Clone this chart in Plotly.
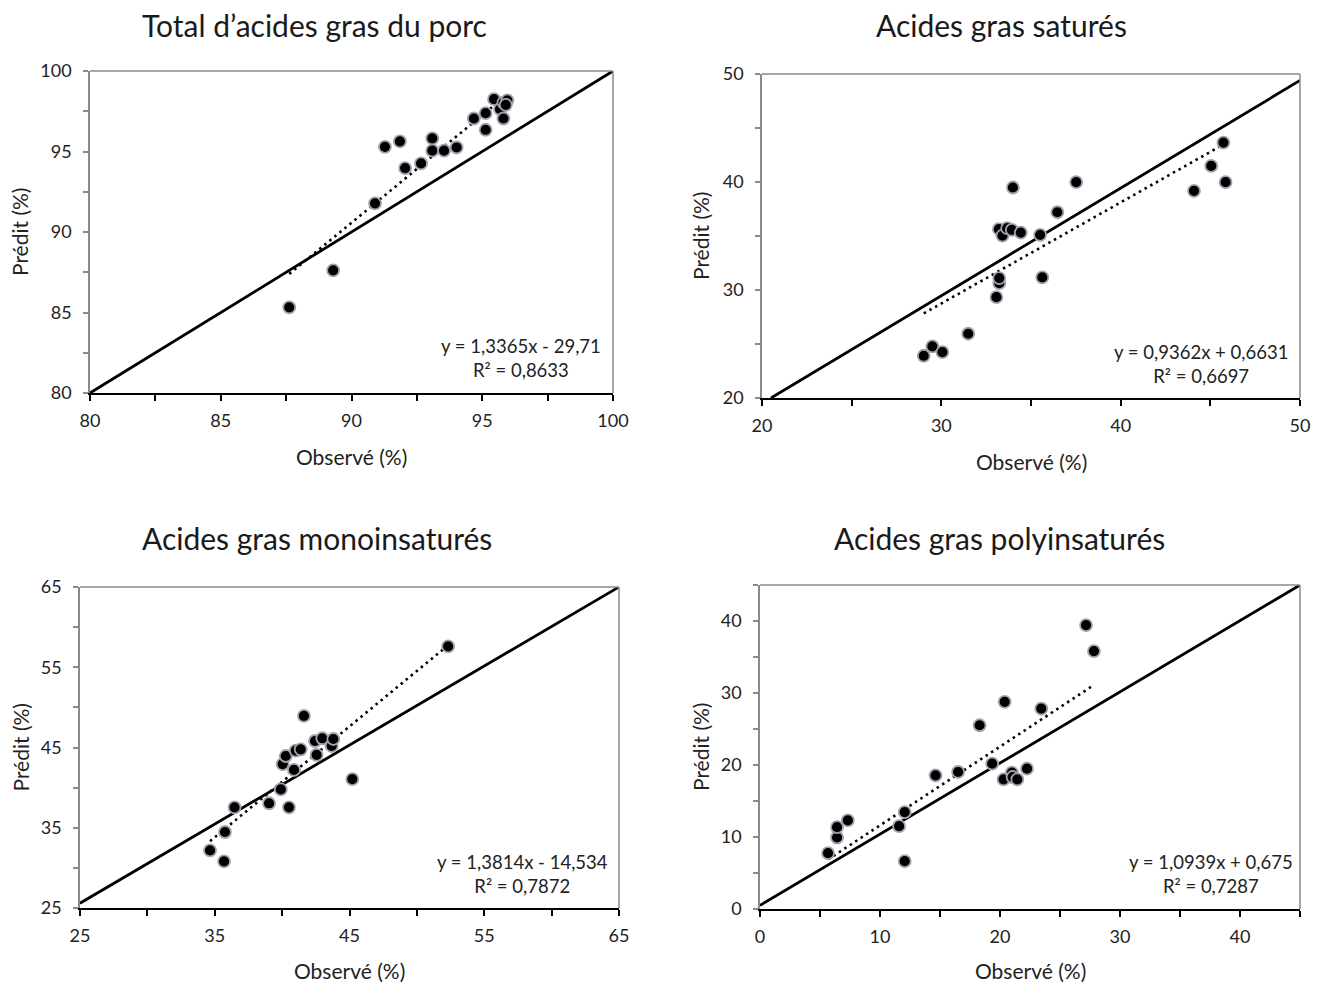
import plotly.graph_objects as go

# ---------------- data ----------------
titles = ["Total d\u2019acides gras du porc", "Acides gras satur\u00e9s",
          "Acides gras monoinsatur\u00e9s", "Acides gras polyinsatur\u00e9s"]

obs_total = [87.62, 89.30, 90.90, 91.28, 91.85, 92.05, 92.66, 93.09, 93.09, 93.54,
             94.02, 94.68, 95.13, 95.13, 95.45, 95.68, 95.81, 95.81, 95.96, 95.90]
pred_total = [85.32, 87.62, 91.78, 95.29, 95.63, 93.97, 94.26, 95.81, 95.05, 95.05,
              95.25, 97.05, 97.38, 96.35, 98.25, 97.63, 97.05, 98.04, 98.18, 97.90]

obs_sat = [29.02, 29.50, 30.06, 31.50, 33.07, 33.23, 33.23, 33.21, 33.41, 33.67, 33.93,
           33.99, 34.43, 35.51, 35.63, 36.47, 37.52, 44.09, 45.05, 45.73, 45.85]
pred_sat = [23.91, 24.78, 24.25, 25.95, 29.34, 30.63, 31.10, 35.63, 35.04, 35.72, 35.57,
            39.49, 35.32, 35.11, 31.16, 37.20, 39.98, 39.18, 41.49, 43.65, 39.98]

obs_mono = [34.65, 35.69, 35.76, 36.47, 39.03, 39.90, 40.51, 40.88, 40.04, 40.27,
            41.01, 41.38, 41.62, 42.56, 42.44, 42.98, 43.68, 43.80, 45.21, 52.32]
pred_mono = [32.18, 30.82, 34.47, 37.55, 38.05, 39.78, 37.55, 42.20, 42.94, 43.94,
             44.60, 44.77, 48.93, 44.07, 45.81, 46.15, 45.19, 46.06, 41.07, 57.59]

obs_poly = [5.67, 6.42, 6.42, 7.32, 11.59, 12.06, 12.06, 14.63, 16.51, 18.30,
            19.35, 20.30, 20.39, 20.99, 21.05, 21.44, 22.25, 23.44, 27.17, 27.83]
pred_poly = [7.75, 9.93, 11.37, 12.30, 11.51, 13.46, 6.64, 18.56, 19.03, 25.52,
             20.19, 18.00, 28.77, 18.93, 18.33, 18.00, 19.49, 27.84, 39.43, 35.82]

# trendline equations (slope, intercept) and labels
slopes = [1.3365, 0.9362, 1.3814, 1.0939]
intercepts = [-29.71, 0.6631, -14.534, 0.675]
eq_labels = ["y = 1,3365x - 29,71<br>R\u00b2 = 0,8633",
             "y = 0,9362x + 0,6631<br>R\u00b2 = 0,6697",
             "y = 1,3814x - 14,534<br>R\u00b2 = 0,7872",
             "y = 1,0939x + 0,675<br>R\u00b2 = 0,7287"]

# 1:1 reference lines (as drawn in the original)
diag_total = ([80, 100], [80, 100])
diag_sat = ([20.5, 50], [20, 49.4])
diag_mono = ([25, 65], [25.6, 65])
diag_poly = ([0, 45], [0.5, 45])

# axis ranges, tick steps and labelled tick steps
ranges = [(80, 100), (20, 50), (25, 65), (0, 45)]
minor_steps = [2.5, 5, 5, 5]
label_steps = [5, 10, 10, 10]

x_title = "Observ\u00e9 (%)"
y_title = "Pr\u00e9dit (%)"

obs_all = [obs_total, obs_sat, obs_mono, obs_poly]
pred_all = [pred_total, pred_sat, pred_mono, pred_poly]
diags = [diag_total, diag_sat, diag_mono, diag_poly]

# ---------------- layout geometry (pixels) ----------------
W, H = 1327, 985
# plot areas: left, right, top, bottom
areas = [(90, 613, 71, 393), (762, 1300, 74, 398), (80, 619, 587, 908), (760, 1300, 585, 909)]
title_pos = [(314, 25), (1001, 25), (317, 538), (999, 538)]
xtitle_y = [456, 461, 970, 970]
ytitle_x = [20, 700, 20, 700]
eq_right = [603, 1290, 610, 1295]
eq_bottom = [383, 389, 899, 899]

FONT = "Lato, 'Open Sans', sans-serif"
TXT = "#222222"
GRAY = "#8a8a8a"

fig = go.Figure()
layout = dict(width=W, height=H, margin=dict(l=0, r=0, t=0, b=0, pad=0, autoexpand=False),
              paper_bgcolor="white", plot_bgcolor="white", showlegend=False,
              font=dict(family=FONT, color=TXT), template="none")
annotations = []
shapes = []


def fmt(v):
    return str(int(v)) if float(v).is_integer() else str(v)


for i in range(4):
    xs = "x" if i == 0 else f"x{i+1}"
    ys = "y" if i == 0 else f"y{i+1}"
    xk = "xaxis" if i == 0 else f"xaxis{i+1}"
    yk = "yaxis" if i == 0 else f"yaxis{i+1}"
    l, r, t, b = areas[i]
    lo, hi = ranges[i]
    n = int(round((hi - lo) / minor_steps[i]))
    tv = [lo + k * minor_steps[i] for k in range(n + 1)]
    tt = [fmt(v) if abs(((v - lo) / label_steps[i]) - round((v - lo) / label_steps[i])) < 1e-9 else "" for v in tv]

    layout[xk] = dict(domain=[l / W, r / W], range=[lo, hi], anchor=ys, automargin=False,
                      showline=True, linecolor="black", linewidth=2.2,
                      ticks="outside", ticklen=6, tickwidth=2, tickcolor="black",
                      tickvals=tv, ticktext=tt, showgrid=False, zeroline=False,
                      tickfont=dict(size=18, color=TXT), ticklabelstandoff=4)
    layout[yk] = dict(domain=[1 - b / H, 1 - t / H], range=[lo, hi], anchor=xs, automargin=False,
                      showline=True, linecolor=GRAY, linewidth=1.5,
                      ticks="outside", ticklen=5, tickwidth=1.5, tickcolor=GRAY,
                      tickvals=tv, ticktext=tt, showgrid=False, zeroline=False,
                      tickfont=dict(size=18, color=TXT), ticklabelstandoff=8)

    # top and right border of plot area
    shapes.append(dict(type="line", xref=f"{xs} domain", yref=f"{ys} domain",
                       x0=0, x1=1, y0=1, y1=1, line=dict(color=GRAY, width=1.5)))
    shapes.append(dict(type="line", xref=f"{xs} domain", yref=f"{ys} domain",
                       x0=1, x1=1, y0=0, y1=1, line=dict(color=GRAY, width=1.5)))

    # 1:1 line
    dx, dy = diags[i]
    fig.add_trace(go.Scatter(x=dx, y=dy, mode="lines", xaxis=xs, yaxis=ys,
                             line=dict(color="black", width=2.8), cliponaxis=False,
                             hoverinfo="skip"))
    # trendline
    xo = obs_all[i]
    tx = [min(xo), max(xo)]
    ty = [slopes[i] * v + intercepts[i] for v in tx]
    fig.add_trace(go.Scatter(x=tx, y=ty, mode="lines", xaxis=xs, yaxis=ys,
                             line=dict(color="black", width=2.6, dash="2.5px,4px"),
                             hoverinfo="skip"))
    # points
    fig.add_trace(go.Scatter(x=xo, y=pred_all[i], mode="markers", xaxis=xs, yaxis=ys,
                             marker=dict(size=12, color="black",
                                         line=dict(color="#a3a3b0", width=1.8))))

    # panel title
    annotations.append(dict(text=titles[i], xref="paper", yref="paper",
                            x=title_pos[i][0] / W, y=1 - title_pos[i][1] / H,
                            xanchor="center", yanchor="middle", showarrow=False,
                            font=dict(size=30, color="#1a1a1a")))
    # axis titles
    annotations.append(dict(text=x_title, xref="paper", yref="paper",
                            x=((l + r) / 2) / W, y=1 - xtitle_y[i] / H,
                            xanchor="center", yanchor="middle", showarrow=False,
                            font=dict(size=21, color=TXT)))
    annotations.append(dict(text=y_title, xref="paper", yref="paper",
                            x=ytitle_x[i] / W, y=1 - ((t + b) / 2) / H, textangle=-90,
                            xanchor="center", yanchor="middle", showarrow=False,
                            font=dict(size=21, color=TXT)))
    # equation label
    annotations.append(dict(text=eq_labels[i], xref="paper", yref="paper",
                            x=eq_right[i] / W, y=1 - eq_bottom[i] / H,
                            xanchor="right", yanchor="bottom", align="center",
                            showarrow=False, font=dict(size=18.5, color=TXT)))

layout["annotations"] = annotations
layout["shapes"] = shapes
fig.update_layout(**layout)
fig.write_html("out.html", config={"displayModeBar": False},
               post_script="document.body.style.margin='0';document.body.style.padding='0';"
                           "document.documentElement.style.overflow='hidden';")
